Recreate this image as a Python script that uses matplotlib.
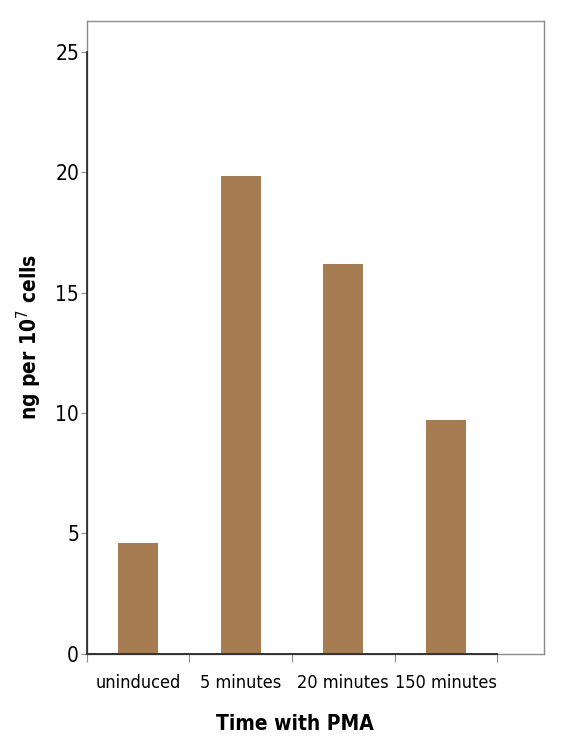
import numpy as np
import matplotlib.pyplot as plt

plt.rcParams['font.family'] = ['Liberation Sans Narrow', 'DejaVu Sans']
plt.rcParams['font.stretch'] = 'condensed'

# data
categories = ["uninduced", "5 minutes", "20 minutes", "150 minutes"]
values = [4.6, 19.85, 16.2, 9.7]
yticks = [0, 5, 10, 15, 20, 25]

bar_color = "#a67c52"
box_color = "#8c8c8c"

fig = plt.figure(figsize=(5.88, 7.51), dpi=100)
ax = fig.add_axes([0.1474, 0.1298, 0.7783, 0.8426])

x = np.arange(len(categories))
ax.bar(x, values, width=0.39, color=bar_color, zorder=2)

ax.set_xlim(-0.5, 3.96)
ax.set_ylim(0, 26.3)

for s in ax.spines.values():
    s.set_color(box_color)
    s.set_linewidth(1)

# darker axis lines over the data range
ax.plot([-0.5, -0.5], [0, 25], color="#222222", lw=1.2, clip_on=False, zorder=3)
ax.plot([-0.5, 3.5], [0, 0], color="#333333", lw=1.4, clip_on=False, zorder=3)

ax.set_yticks(yticks)
ax.set_yticklabels([str(v) for v in yticks], fontsize=15)
ax.tick_params(axis='y', direction='out', length=4, width=0.8, color=box_color, pad=1.5)

ax.set_xticks(x)
ax.set_xticklabels(categories, fontsize=13)
ax.set_xticks(np.arange(-0.5, len(categories), 1.0), minor=True)
ax.tick_params(axis='x', which='major', length=0, pad=15)
ax.tick_params(axis='x', which='minor', direction='out', length=6, width=0.8, color=box_color)

ax.set_ylabel("ng per 10$^7$ cells", fontsize=15, fontweight='bold')
ax.yaxis.set_label_coords(-0.094, 0.5)
ax.set_xlabel("Time with PMA", fontsize=15, fontweight='bold')
ax.xaxis.set_label_coords(0.455, -0.096)

fig.savefig("out.png", dpi=100)
